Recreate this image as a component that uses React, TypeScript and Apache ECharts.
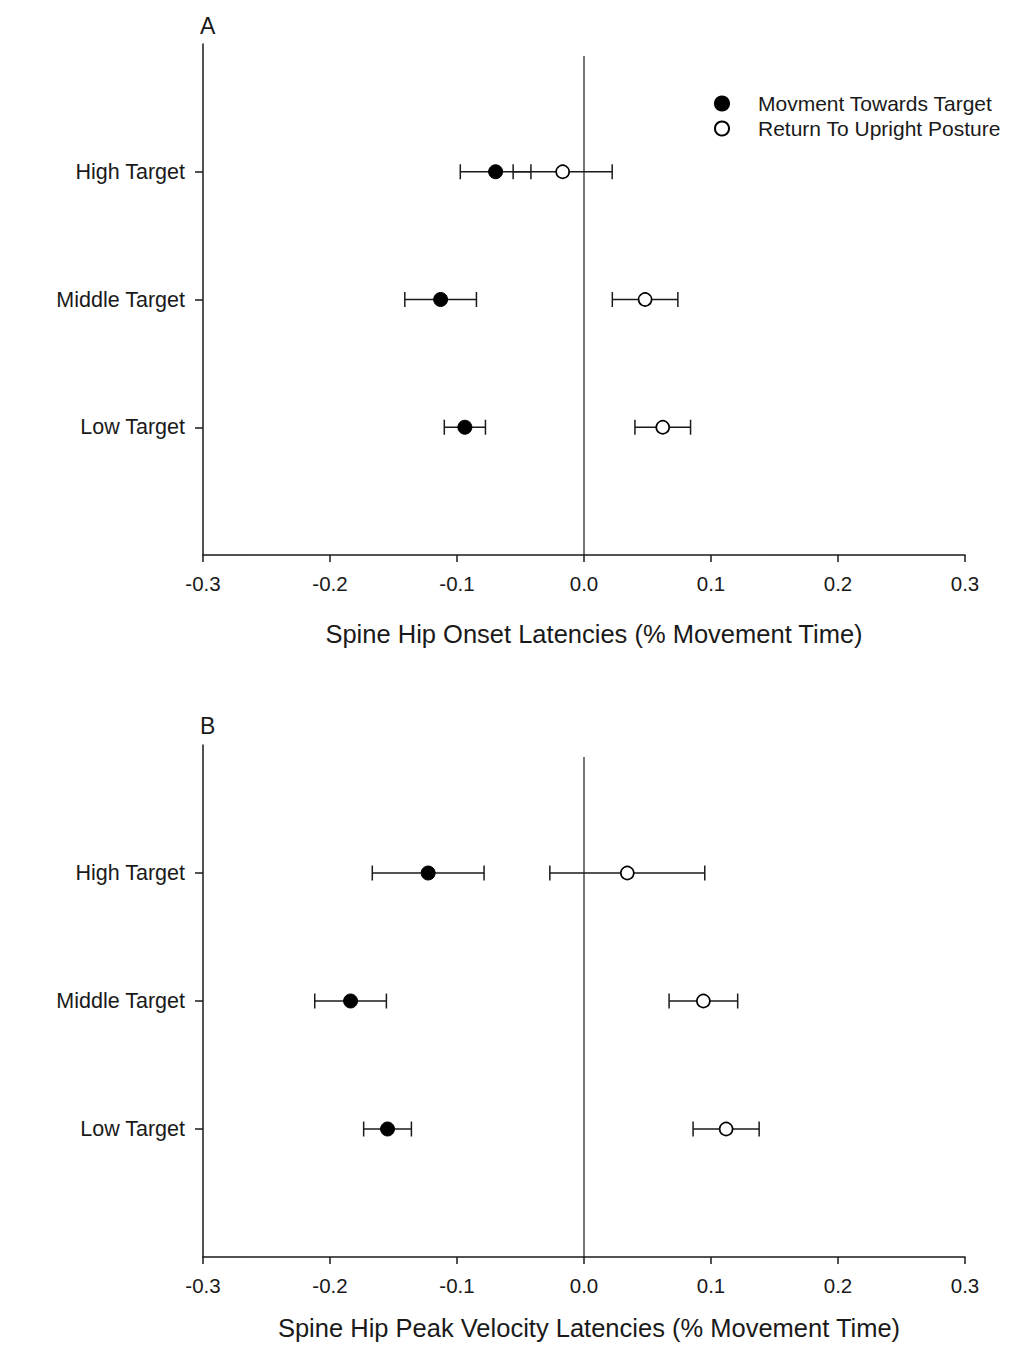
import React, { useEffect, useRef } from "react";
import * as echarts from "echarts";

// ---- Data ----
const yCategories = ["", "Low Target", "Middle Target", "High Target", ""];
const rowIndex = [1, 2, 3]; // Low, Middle, High

const seriesNames = ["Movment Towards Target", "Return To Upright Posture"];

// Panel A: Spine Hip Onset Latencies
const towardsA = [-0.0938, -0.1129, -0.0696];
const towardsAErr = [0.0162, 0.0282, 0.0278];
const returnA = [0.062, 0.0481, -0.0168];
const returnAErr = [0.0219, 0.0258, 0.039];

// Panel B: Spine Hip Peak Velocity Latencies
const towardsB = [-0.1547, -0.1838, -0.1227];
const towardsBErr = [0.0188, 0.0282, 0.044];
const returnB = [0.1119, 0.094, 0.0341];
const returnBErr = [0.026, 0.027, 0.061];

const xTicks = { min: -0.3, max: 0.3, interval: 0.1 };
const panelTitles = [
  "Spine Hip Onset Latencies (% Movement Time)",
  "Spine Hip Peak Velocity Latencies (% Movement Time)",
];
const panelLetters = ["A", "B"];

const FONT = "'Liberation Sans', Arial, Helvetica, sans-serif";
const INK = "#1a1a1a";

function errData(vals: number[], errs: number[]) {
  return vals.map((v, i) => [v, rowIndex[i], errs[i]]);
}
function ptData(vals: number[]) {
  return vals.map((v, i) => [v, rowIndex[i]]);
}

const errRender = (params: any, api: any) => {
  const x = api.value(0);
  const y = api.value(1);
  const e = api.value(2);
  const l = api.coord([x - e, y]);
  const r = api.coord([x + e, y]);
  const h = 7.5;
  const style = { stroke: INK, lineWidth: 1.5 };
  return {
    type: "group",
    children: [
      { type: "line", shape: { x1: l[0], y1: l[1], x2: r[0], y2: r[1] }, style },
      { type: "line", shape: { x1: l[0], y1: l[1] - h, x2: l[0], y2: l[1] + h }, style },
      { type: "line", shape: { x1: r[0], y1: r[1] - h, x2: r[0], y2: r[1] + h }, style },
    ],
  };
};

const zeroRender = (params: any, api: any) => {
  const cs = params.coordSys;
  const p = api.coord([api.value(0), 1]);
  return {
    type: "line",
    shape: { x1: p[0], y1: cs.y + 12, x2: p[0], y2: cs.y + cs.height },
    style: { stroke: INK, lineWidth: 1.2 },
  };
};

export default function App() {
  const ref = useRef<HTMLDivElement>(null);
  useEffect(() => {
    document.body.style.margin = "0";
    if (!ref.current) return;
    const chart = echarts.init(ref.current, undefined, { renderer: "svg" });

    const grids = [
      { left: 203, width: 762, top: 44, height: 511 },
      { left: 203, width: 762, top: 745, height: 512 },
    ];
    const nameGaps = [66, 58];

    const xAxes = grids.map((_, i) => ({
      type: "value",
      gridIndex: i,
      min: xTicks.min,
      max: xTicks.max,
      interval: xTicks.interval,
      splitLine: { show: false },
      axisLine: { show: true, onZero: false, lineStyle: { color: INK, width: 1.5 } },
      axisTick: { show: true, length: 7, inside: false, lineStyle: { color: INK, width: 1.5 } },
      axisLabel: {
        color: INK,
        fontSize: 20.5,
        fontFamily: FONT,
        margin: 18,
        formatter: (v: number) => v.toFixed(1),
      },
      name: panelTitles[i],
      nameLocation: "middle",
      nameGap: nameGaps[i],
      nameTextStyle: {
        color: INK,
        fontSize: 25.5,
        fontFamily: FONT,
        padding: [0, 0, 0, i === 0 ? 20 : 10],
      },
    }));

    const yAxes = grids.map((_, i) => ({
      type: "category",
      gridIndex: i,
      data: yCategories,
      boundaryGap: false,
      axisLine: { show: true, onZero: false, lineStyle: { color: INK, width: 1.5 } },
      axisTick: {
        show: true,
        length: 8,
        interval: (idx: number, val: string) => val !== "",
        lineStyle: { color: INK, width: 1.5 },
      },
      axisLabel: {
        color: INK,
        fontSize: 21.5,
        fontFamily: FONT,
        margin: 18,
        interval: (idx: number, val: string) => val !== "",
      },
      splitLine: { show: false },
    }));

    const panels = [
      { t: towardsA, te: towardsAErr, r: returnA, re: returnAErr },
      { t: towardsB, te: towardsBErr, r: returnB, re: returnBErr },
    ];

    const series: any[] = [];
    panels.forEach((p, i) => {
      series.push({
        type: "custom",
        xAxisIndex: i,
        yAxisIndex: i,
        data: [[0]],
        renderItem: zeroRender,
        silent: true,
        z: 1,
      });
      series.push({
        type: "custom",
        xAxisIndex: i,
        yAxisIndex: i,
        data: errData(p.t, p.te),
        renderItem: errRender,
        z: 2,
      });
      series.push({
        type: "custom",
        xAxisIndex: i,
        yAxisIndex: i,
        data: errData(p.r, p.re),
        renderItem: errRender,
        z: 2,
      });
      series.push({
        name: seriesNames[0],
        type: "scatter",
        xAxisIndex: i,
        yAxisIndex: i,
        data: ptData(p.t),
        symbol: "circle",
        symbolSize: 14,
        itemStyle: { color: "#000", borderColor: "#000", borderWidth: 1, opacity: 1 },
        z: 5,
      });
      series.push({
        name: seriesNames[1],
        type: "scatter",
        xAxisIndex: i,
        yAxisIndex: i,
        data: ptData(p.r),
        symbol: "circle",
        symbolSize: 13,
        itemStyle: { color: "#fff", borderColor: "#000", borderWidth: 1.6, opacity: 1 },
        z: 5,
      });
    });

    const option: any = {
      animation: false,
      backgroundColor: "#fff",
      grid: grids,
      xAxis: xAxes,
      yAxis: yAxes,
      legend: {
        data: seriesNames,
        orient: "vertical",
        left: 709,
        top: 88,
        itemWidth: 14,
        itemHeight: 14,
        itemGap: 4,
        selectedMode: false,
        textStyle: {
          color: INK,
          fontSize: 21,
          lineHeight: 21,
          fontFamily: FONT,
          padding: [0, 0, 0, 24],
        },
      },
      graphic: panelLetters.map((L, i) => ({
        type: "text",
        left: 200,
        top: i === 0 ? 14 : 714,
        style: { text: L, fontSize: 23, fontFamily: FONT, fill: INK },
      })),
      series,
    };
    chart.setOption(option);
    return () => chart.dispose();
  }, []);
  return <div ref={ref} style={{ width: 1020, height: 1347 }} />;
}
